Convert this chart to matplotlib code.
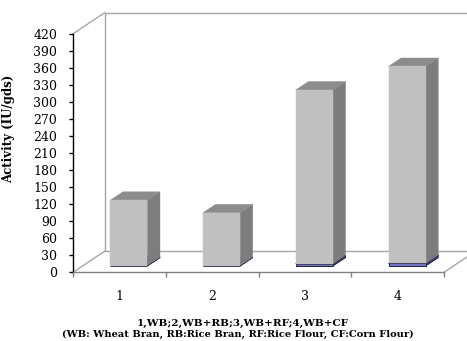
import matplotlib
matplotlib.use('Agg')
import matplotlib.pyplot as plt
from matplotlib.patches import Polygon

# ---- data ----
categories = ['1', '2', '3', '4']
base_vals = [0.8, 0.8, 4.0, 4.5]        # thin dark/blue bottom series
gray_vals = [115.0, 93.0, 306.0, 347.0]  # main grey series
yticks = list(range(0, 421, 30))
ylabel = 'Activity (IU/gds)'
caption1 = '1,WB;2,WB+RB;3,WB+RF;4,WB+CF'
caption2 = '(WB: Wheat Bran, RB:Rice Bran, RF:Rice Flour, CF:Corn Flour)'

plt.rcParams['font.family'] = ['DejaVu Serif']

W, H = 467, 341
fig = plt.figure(figsize=(W / 100, H / 100), dpi=100)
ax = fig.add_axes([73 / W, 1 - 272.3 / H, 371 / W, 238.5 / H])
ax.set_xlim(0.5, 4.5)
ax.set_ylim(0, 420)

# depth offsets (oblique projection) in data units
px_per_x = ax.bbox.width / 4.0
px_per_y = ax.bbox.height / 420.0
DX = 31.5 / px_per_x
DY = 21.0 / px_per_y


def proj(x, y, d):
    return (x + d * DX, y + d * DY)


wall_c = '#a6a6a6'
# left wall / floor / back wall outlines
for pts in [
    [proj(0.5, 420, 0), proj(0.5, 420, 1)],
    [proj(0.5, 0, 1), proj(0.5, 420, 1)],
    [proj(0.5, 420, 1), proj(4.5, 420, 1)],
    [proj(0.5, 0, 0), proj(0.5, 0, 1)],
    [proj(0.5, 0, 1), proj(4.5, 0, 1)],
    [proj(4.5, 0, 0), proj(4.5, 0, 1)],
]:
    xs, ys = zip(*pts)
    ax.plot(xs, ys, color=wall_c, lw=1.0, clip_on=False, zorder=1)

d0, d1 = 0.3, 0.7
half = 0.2


def box(x, y0, y1, cf, cs, ct, ec=None, lw=0):
    xl, xr = x - half, x + half
    front = [proj(xl, y0, d0), proj(xr, y0, d0), proj(xr, y1, d0), proj(xl, y1, d0)]
    side = [proj(xr, y0, d0), proj(xr, y0, d1), proj(xr, y1, d1), proj(xr, y1, d0)]
    top = [proj(xl, y1, d0), proj(xr, y1, d0), proj(xr, y1, d1), proj(xl, y1, d1)]
    for poly, c in [(side, cs), (top, ct), (front, cf)]:
        ax.add_patch(Polygon(poly, closed=True, facecolor=c,
                             edgecolor=ec if ec else c, lw=lw if ec else 0.3,
                             clip_on=False, zorder=3))


for i, (b, g) in enumerate(zip(base_vals, gray_vals)):
    x = i + 1
    box(x, 0, b, '#7373c8', '#404088', '#6060a8', ec='#202040', lw=0.7)
    box(x, b, b + g, '#c0c0c0', '#7d7d7d', '#8c8c8c')

# axes styling
for s in ['top', 'right']:
    ax.spines[s].set_visible(False)
ax.spines['left'].set_color('black')
ax.spines['left'].set_linewidth(1.0)
ax.spines['bottom'].set_color('#808080')
ax.spines['bottom'].set_linewidth(1.0)
ax.patch.set_visible(False)

ax.set_yticks(yticks)
ax.set_yticklabels([str(v) for v in yticks])
ax.tick_params(axis='y', direction='out', length=3, width=1, pad=8.5,
               labelsize=9, colors='black')
ax.set_xticks([1, 2, 3, 4])
ax.set_xticklabels(categories)
ax.set_xticks([0.5, 1.5, 2.5, 3.5, 4.5], minor=True)
ax.tick_params(axis='x', which='major', length=0, pad=13, labelsize=9)
ax.tick_params(axis='x', which='minor', direction='out', length=3.5,
               width=1, color='#808080')

ax.set_ylabel(ylabel, fontsize=8.5, fontweight='bold')
ax.yaxis.set_label_coords(-0.155, 0.6)

fig.text(243 / W, 1 - 323.3 / H, caption1, ha='center', va='center',
         fontsize=7.5, fontweight='bold')
fig.text(238 / W, 1 - 334.6 / H, caption2, ha='center', va='center',
         fontsize=7.1, fontweight='bold')

fig.savefig('out.png', dpi=100)
